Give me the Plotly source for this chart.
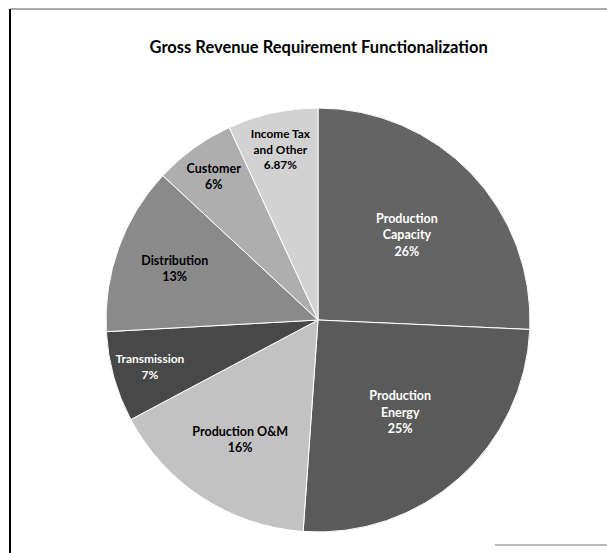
import plotly.graph_objects as go

categories = ["Production Capacity", "Production Energy", "Production O&M",
              "Transmission", "Distribution", "Customer", "Income Tax and Other"]
values = [25.7, 25.4, 16.1, 6.9, 12.8, 6.2, 6.87]
label_text = ["<b>Production<br>Capacity<br>26%</b>", "<b>Production<br>Energy<br>25%</b>",
              "<b>Production O&M<br>16%</b>", "<b>Transmission<br>7%</b>", "<b>Distribution<br>13%</b>",
              "<b>Customer<br>6%</b>", "<b>Income Tax<br>and Other<br>6.87%</b>"]
colors = ["#646464", "#5a5a5a", "#c2c2c2", "#484848", "#8a8a8a", "#aeaeae", "#d2d2d2"]
text_colors = ["white", "white", "black", "white", "black", "black", "black"]

fig = go.Figure(go.Pie(
    labels=categories,
    values=values,
    text=label_text,
    textinfo="text",
    textposition="inside",
    insidetextorientation="horizontal",
    sort=False,
    direction="clockwise",
    rotation=0,
    marker=dict(colors=colors, line=dict(color="white", width=1)),
    textfont=dict(family="Lato", size=12.5, color=text_colors),
    hoverinfo="label+percent",
    domain=dict(x=[106/607, 530/607], y=[1-532/553, 1-108/553]),
    showlegend=False,
))

fig.update_layout(
    width=607, height=553,
    margin=dict(l=0, r=0, t=0, b=0),
    paper_bgcolor="white",
    plot_bgcolor="white",
    title=dict(text="<b>Gross Revenue Requirement Functionalization</b>",
               x=0.525, xanchor="center", y=1-47/553, yanchor="middle",
               font=dict(family="Lato", size=16.5, color="black")),
    shapes=[
        dict(type="line", xref="paper", yref="paper", x0=10/607, x1=10/607,
             y0=0, y1=1-9/553, line=dict(color="black", width=2)),
        dict(type="line", xref="paper", yref="paper", x0=10/607, x1=1,
             y0=1-9/553, y1=1-9/553, line=dict(color="#555555", width=1)),
        dict(type="line", xref="paper", yref="paper", x0=495/607, x1=1,
             y0=1-545/553, y1=1-545/553, line=dict(color="#777777", width=1)),
    ],
)

fig.write_html("out.html")
